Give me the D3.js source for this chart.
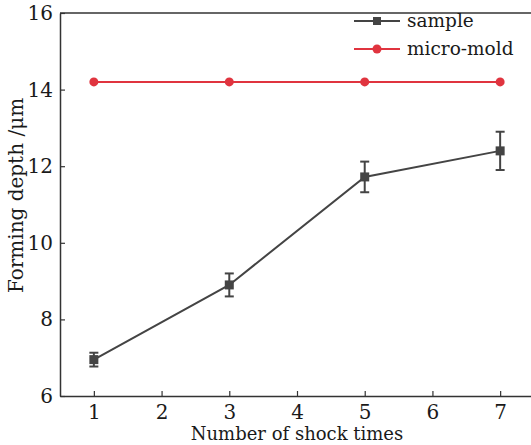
<!DOCTYPE html>
<meta charset="utf-8">
<head>
<script src="https://d3js.org/d3.v7.min.js"></script>
<style>
  body { margin: 0; background: #fff; }
  text { font-family: "DejaVu Serif", "Liberation Serif", serif; fill: #1a1a1a; }
</style>
</head>
<body>
<div id="chart"></div>
<script>
// data
var shocks = [1, 3, 5, 7];
var sampleDepth = [6.95, 8.9, 11.72, 12.4];
var sampleErr = [0.18, 0.3, 0.4, 0.5];
var moldDepth = [14.2, 14.2, 14.2, 14.2];
var xTicks = [1, 2, 3, 4, 5, 6, 7];
var yTicks = [6, 8, 10, 12, 14, 16];

var W = 531, H = 445;
var margin = {top: 13, right: 0, bottom: 49, left: 60},
    width = 534 - margin.left,
    height = H - margin.top - margin.bottom;

var svg = d3.select("#chart")
  .append("svg")
    .attr("width", W)
    .attr("height", H)
  .append("g")
    .attr("transform", "translate(" + margin.left + "," + margin.top + ")");

var x = d3.scaleLinear().domain([0.5, 7.5]).range([0, width]);
var y = d3.scaleLinear().domain([6, 16]).range([height, 0]);

var axisColor = "#333";

// X axis (ticks pointing inward)
var gx = svg.append("g")
  .attr("transform", "translate(0," + height + ")")
  .call(d3.axisBottom(x).tickValues(xTicks).tickFormat(d3.format("d"))
    .tickSizeInner(-5).tickSizeOuter(0).tickPadding(9));

// Y axis
var gy = svg.append("g")
  .call(d3.axisLeft(y).tickValues(yTicks).tickFormat(d3.format("d"))
    .tickSizeInner(-5).tickSizeOuter(0).tickPadding(7));

// top frame line
svg.append("line")
  .attr("x1", 0).attr("x2", width)
  .attr("y1", 0).attr("y2", 0)
  .attr("stroke", axisColor).attr("stroke-width", 1.5);

[gx, gy].forEach(function(g) {
  g.attr("font-size", 20).attr("font-family", "DejaVu Serif, serif");
  g.select(".domain").attr("stroke", axisColor).attr("stroke-width", 1.5);
  g.selectAll(".tick line").attr("stroke", axisColor).attr("stroke-width", 1.2);
  g.selectAll("text").attr("fill", "#1a1a1a");
});

// axis titles
svg.append("text")
  .attr("x", x(4))
  .attr("y", height + 44)
  .attr("text-anchor", "middle")
  .style("font-size", "18px")
  .text("Number of shock times");

svg.append("text")
  .attr("transform", "translate(" + (-37) + "," + (height / 2 - 9) + ")rotate(-90)")
  .attr("text-anchor", "middle")
  .style("font-size", "20px")
  .text("Forming depth /μm");

var red = "#e0343f", gray = "#444";

// micro-mold series
var moldData = shocks.map(function(s, i) { return {s: s, v: moldDepth[i]}; });
svg.append("path")
  .datum(moldData)
  .attr("fill", "none")
  .attr("stroke", red)
  .attr("stroke-width", 2)
  .attr("d", d3.line().x(function(d) { return x(d.s); }).y(function(d) { return y(d.v); }));
svg.selectAll(".moldpt")
  .data(moldData)
  .enter().append("circle")
  .attr("cx", function(d) { return x(d.s); })
  .attr("cy", function(d) { return y(d.v); })
  .attr("r", 4.5)
  .attr("fill", red);

// sample series
var sampleData = shocks.map(function(s, i) { return {s: s, v: sampleDepth[i], e: sampleErr[i]}; });
svg.append("path")
  .datum(sampleData)
  .attr("fill", "none")
  .attr("stroke", gray)
  .attr("stroke-width", 2)
  .attr("d", d3.line().x(function(d) { return x(d.s); }).y(function(d) { return y(d.v); }));

var eb = svg.selectAll(".err")
  .data(sampleData)
  .enter().append("g");
eb.append("line")
  .attr("x1", function(d) { return x(d.s); })
  .attr("x2", function(d) { return x(d.s); })
  .attr("y1", function(d) { return y(d.v - d.e); })
  .attr("y2", function(d) { return y(d.v + d.e); })
  .attr("stroke", gray).attr("stroke-width", 2);
[-1, 1].forEach(function(sg) {
  eb.append("line")
    .attr("x1", function(d) { return x(d.s) - 4.5; })
    .attr("x2", function(d) { return x(d.s) + 4.5; })
    .attr("y1", function(d) { return y(d.v + sg * d.e); })
    .attr("y2", function(d) { return y(d.v + sg * d.e); })
    .attr("stroke", gray).attr("stroke-width", 2);
});
svg.selectAll(".samplept")
  .data(sampleData)
  .enter().append("rect")
  .attr("x", function(d) { return x(d.s) - 4.5; })
  .attr("y", function(d) { return y(d.v) - 4.5; })
  .attr("width", 9)
  .attr("height", 9)
  .attr("fill", gray);

// legend
var legend = svg.append("g").attr("transform", "translate(294,8)");
var items = [{name: "sample", color: gray, shape: "rect"}, {name: "micro-mold", color: red, shape: "circle"}];
items.forEach(function(it, i) {
  var g = legend.append("g").attr("transform", "translate(0," + (i * 28) + ")");
  g.append("line").attr("x1", 0).attr("x2", 46).attr("y1", 0).attr("y2", 0)
    .attr("stroke", it.color).attr("stroke-width", 2);
  if (it.shape === "rect") {
    g.append("rect").attr("x", 19).attr("y", -4).attr("width", 8).attr("height", 8).attr("fill", it.color);
  } else {
    g.append("circle").attr("cx", 23).attr("cy", 0).attr("r", 4.5).attr("fill", it.color);
  }
  g.append("text").attr("x", 53).attr("y", 6).style("font-size", "18.5px").text(it.name);
});
</script>
</body>
